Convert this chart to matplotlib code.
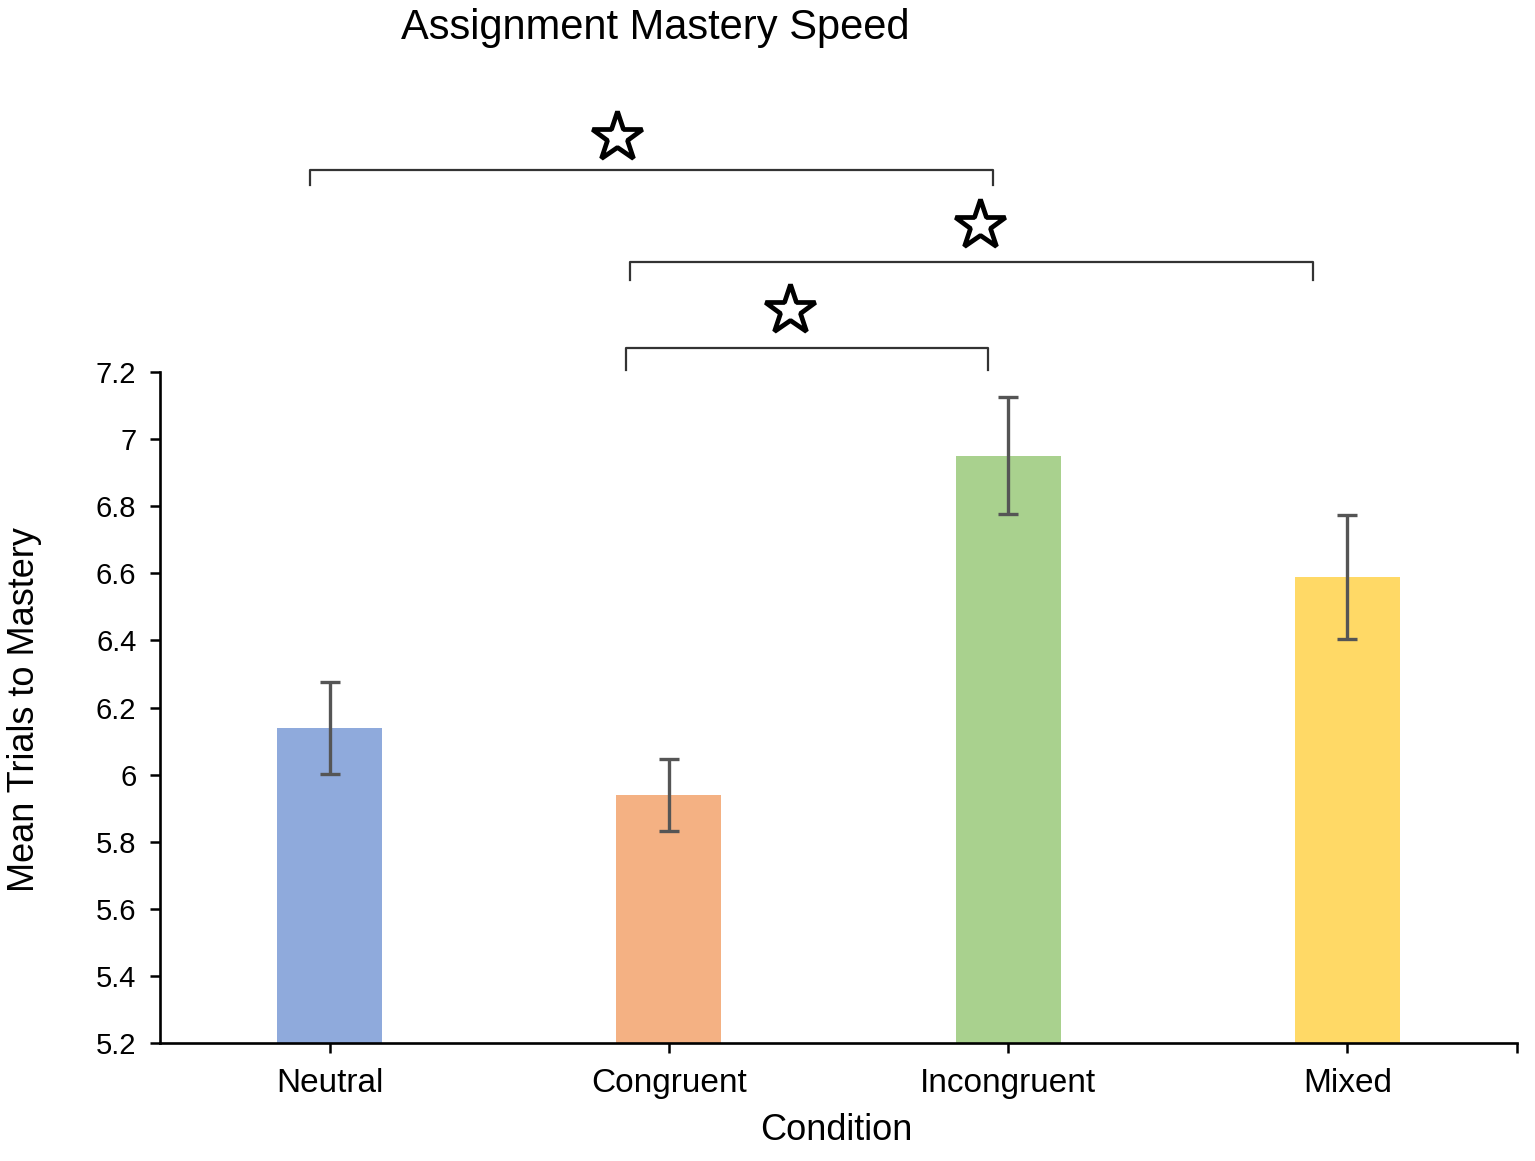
import matplotlib
matplotlib.use('Agg')
import matplotlib.pyplot as plt
from matplotlib.ticker import FuncFormatter

plt.rcParams['font.family'] = ['Liberation Sans', 'DejaVu Sans']

# Данные
conditions = ['Neutral', 'Congruent', 'Incongruent', 'Mixed']
means = [6.14, 5.94, 6.95, 6.59]
errors = [0.137, 0.107, 0.174, 0.185]
colors = ['#8FAADC', '#F4B183', '#A9D18E', '#FFD966']

# Скобки значимости: (x левый, x правый, y линии, y концов), звезда (x, y)
brackets = [
    (-0.058, 1.955, 7.802, 7.757),
    (0.885, 2.899, 7.528, 7.474),
    (0.874, 1.941, 7.272, 7.205),
]
stars = [(0.847, 7.90), (1.917, 7.638), (1.357, 7.385)]

fig = plt.figure(figsize=(15.35, 11.61), dpi=100)
ax = fig.add_axes([160/1535, 1 - 1043/1161, (1517-160)/1535, (1043-372)/1161])

x = range(len(conditions))
ax.bar(x, [m - 5.2 for m in means], bottom=5.2, width=0.31, color=colors, zorder=2)
ax.errorbar(x, means, yerr=errors, fmt='none', ecolor='#555555', elinewidth=2.4,
            capsize=7, capthick=2.4, zorder=3)

ax.set_xlim(-0.5, 3.5)
ax.set_ylim(5.2, 7.2)
ax.set_yticks([5.2 + 0.2*i for i in range(11)])
ax.yaxis.set_major_formatter(FuncFormatter(lambda v, p: f'{round(v, 1):g}'))
ax.set_xticks(list(x))
ax.set_xticks([3.5], minor=True)
ax.set_xticklabels(conditions, fontsize=24)
ax.tick_params(axis='y', labelsize=21, length=7, width=1.8, pad=10)
ax.tick_params(axis='x', which='both', length=7, width=1.8, pad=11)

for s in ['top', 'right']:
    ax.spines[s].set_visible(False)
for s in ['left', 'bottom']:
    ax.spines[s].set_linewidth(1.9)

# Скобки и звёзды
for x1, x2, yl, yt in brackets:
    ax.plot([x1, x1, x2, x2], [yt, yl, yl, yt], color='#333333', lw=1.6,
            clip_on=False, solid_joinstyle='round')
for sx, sy in stars:
    ax.plot(sx, sy, marker='*', markersize=38, markerfacecolor='white',
            markeredgecolor='black', markeredgewidth=3.4, clip_on=False)

fig.text(655/1535, 1 - 28/1161, 'Assignment Mastery Speed', fontsize=30,
         ha='center', va='center')
fig.text(25/1535, 1 - 710/1161, 'Mean Trials to Mastery', fontsize=26,
         rotation=90, ha='center', va='center')
fig.text(836/1535, 1 - 1131/1161, 'Condition', fontsize=26,
         ha='center', va='center')

fig.savefig('out.png', dpi=100)
plt.close(fig)
